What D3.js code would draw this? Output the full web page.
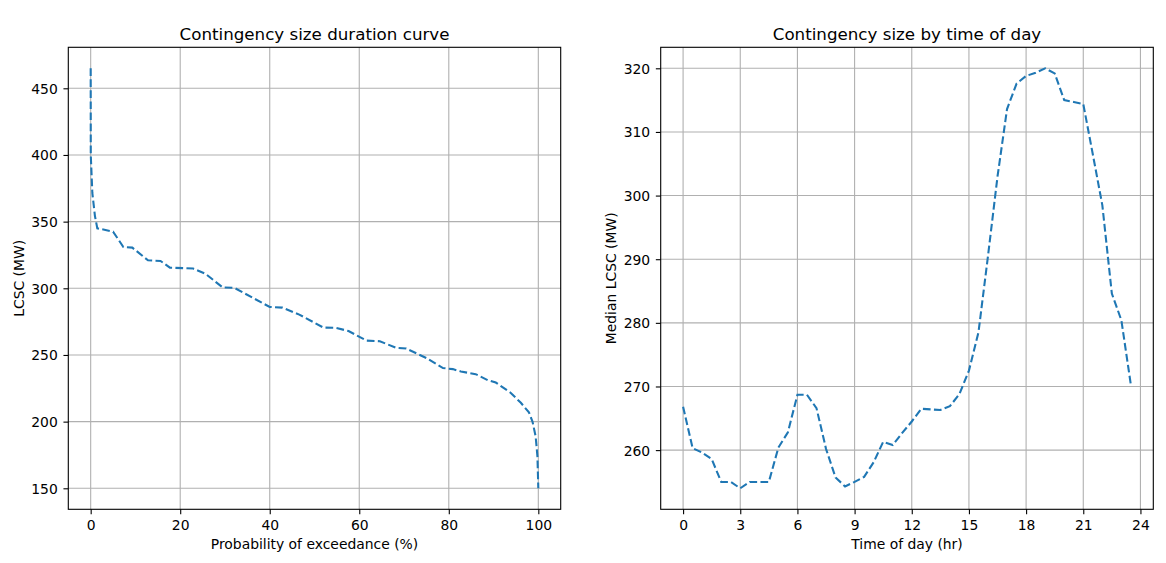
<!DOCTYPE html>
<html>
<head>
<meta charset="utf-8">
<script src="https://cdn.jsdelivr.net/npm/d3@7"></script>
<style>
  body { margin: 0; background: #fff; }
  svg { display: block; font-family: "DejaVu Sans", sans-serif; }
  .grid line { stroke: #b0b0b0; stroke-width: 1.1px; }
  .tick-label { font-size: 13.9px; fill: #000; }
  .title { font-size: 16.7px; fill: #000; }
  .label { font-size: 13.9px; fill: #000; }
</style>
</head>
<body>
<div id="chart"></div>
<script>
// duration curve: probability of exceedance (%) vs LCSC (MW)
const exceedance = [0, 0.02, 0.37, 0.96, 1.48, 5.0, 7.3, 9.3, 12.8, 15.6, 17.7, 22.9, 25.6, 29.5, 32.1,
  40.0, 42.8, 46.6, 52.0, 54.6, 57.6, 61.6, 64.6, 68.3, 70.5, 75.0, 78.7, 80.9, 82.7, 86.0, 88.7,
  90.5, 93.8, 96.1, 97.9, 98.7, 99.4, 99.8, 100]
const lcsc = [465, 400, 371.5, 354, 345, 342.5, 331, 330.5, 321, 320.5, 315.5, 314.8, 311, 300.6, 300.3,
  286, 285.5, 280.3, 270.5, 270.4, 268, 260.8, 260.3, 255.3, 254.8, 247.7, 240.2, 239.4, 237.6, 235.6, 231.1,
  229.3, 221.7, 214.1, 207, 200, 189, 174, 150]

// median by half hour
const hours = d3.range(0, 24, 0.5)
const medianLcsc = [266.8, 260.3, 259.6, 258.6, 255.0, 255.0, 254.0, 255.0, 255.0, 255.0, 260.4, 262.8,
  268.7, 268.7, 266.6, 260.2, 255.7, 254.3, 255.0, 255.8, 258.1, 261.3, 260.8, 262.7,
  264.5, 266.5, 266.4, 266.3, 266.9, 268.8, 272.5, 278.5, 290.5, 303.0, 313.6, 317.6,
  318.8, 319.3, 320.0, 319.2, 315.0, 314.7, 314.4, 306.5, 298.5, 284.6, 280.4, 270.2]

const leftXTicks = [0, 20, 40, 60, 80, 100]
const leftYTicks = [150, 200, 250, 300, 350, 400, 450]
const rightXTicks = [0, 3, 6, 9, 12, 15, 18, 21, 24]
const rightYTicks = [260, 270, 280, 290, 300, 310, 320]

const width = 1166, height = 563
const svg = d3.select('#chart').append('svg')
  .attr('width', width)
  .attr('height', height)

// matplotlib style auto limits: 5% margin
function padded(ext) {
  const m = (ext[1] - ext[0]) * 0.05
  return [ext[0] - m, ext[1] + m]
}

function panel({ left, right, top, bottom, xs, ys, xTicks, yTicks, title, xLabel, yLabel, yLabelX }) {
  const x = d3.scaleLinear().domain(padded(d3.extent(xs))).range([left, right])
  const y = d3.scaleLinear().domain(padded(d3.extent(ys))).range([bottom, top])
  const g = svg.append('g')

  // grid
  const grid = g.append('g').attr('class', 'grid')
  grid.selectAll('.gx').data(xTicks).enter().append('line')
    .attr('x1', d => x(d)).attr('x2', d => x(d))
    .attr('y1', top).attr('y2', bottom)
  grid.selectAll('.gy').data(yTicks).enter().append('line')
    .attr('y1', d => y(d)).attr('y2', d => y(d))
    .attr('x1', left).attr('x2', right)

  // the curve
  const line = d3.line().x(d => x(d[0])).y(d => y(d[1]))
  g.append('path')
    .datum(d3.zip(xs, ys))
    .attr('d', line)
    .attr('fill', 'none')
    .attr('stroke', '#1f77b4')
    .attr('stroke-width', 2.08)
    .attr('stroke-dasharray', '7.7,3.33')

  // axes
  const xAxis = d3.axisBottom(x).tickValues(xTicks).tickSize(4.86).tickPadding(0).tickFormat(d3.format('d'))
  const yAxis = d3.axisLeft(y).tickValues(yTicks).tickSize(4.86).tickPadding(0).tickFormat(d3.format('d'))
  const gx = g.append('g').attr('transform', `translate(0,${bottom})`).call(xAxis)
  const gy = g.append('g').attr('transform', `translate(${left},0)`).call(yAxis)
  for (const a of [gx, gy]) {
    a.select('.domain').remove()
    a.selectAll('.tick line').attr('stroke', '#000').attr('stroke-width', 1.1)
    a.selectAll('.tick text').attr('class', 'tick-label').attr('fill', '#000')
      .style('font-family', '"DejaVu Sans", sans-serif')
  }
  gx.selectAll('.tick text').attr('y', 11.3).attr('dy', '0.71em')
  gy.selectAll('.tick text').attr('x', -10.5).attr('dy', '0.36em')

  // frame
  g.append('rect')
    .attr('x', left).attr('y', top)
    .attr('width', right - left).attr('height', bottom - top)
    .attr('fill', 'none').attr('stroke', '#000').attr('stroke-width', 1.1)

  g.append('text').attr('class', 'title')
    .attr('x', (left + right) / 2).attr('y', 39.5)
    .attr('text-anchor', 'middle').text(title)
  g.append('text').attr('class', 'label')
    .attr('x', (left + right) / 2).attr('y', 549)
    .attr('text-anchor', 'middle').text(xLabel)
  g.append('text').attr('class', 'label')
    .attr('transform', `translate(${yLabelX},${(top + bottom) / 2}) rotate(-90)`)
    .attr('text-anchor', 'middle').text(yLabel)
}

panel({
  left: 68.3, right: 560.7, top: 47.3, bottom: 509.3,
  xs: exceedance, ys: lcsc,
  xTicks: leftXTicks, yTicks: leftYTicks,
  title: 'Contingency size duration curve',
  xLabel: 'Probability of exceedance (%)',
  yLabel: 'LCSC (MW)', yLabelX: 23.5
})

panel({
  left: 660.7, right: 1153.3, top: 47.3, bottom: 509.3,
  xs: hours, ys: medianLcsc,
  xTicks: rightXTicks, yTicks: rightYTicks,
  title: 'Contingency size by time of day',
  xLabel: 'Time of day (hr)',
  yLabel: 'Median LCSC (MW)', yLabelX: 616
})
</script>
</body>
</html>
